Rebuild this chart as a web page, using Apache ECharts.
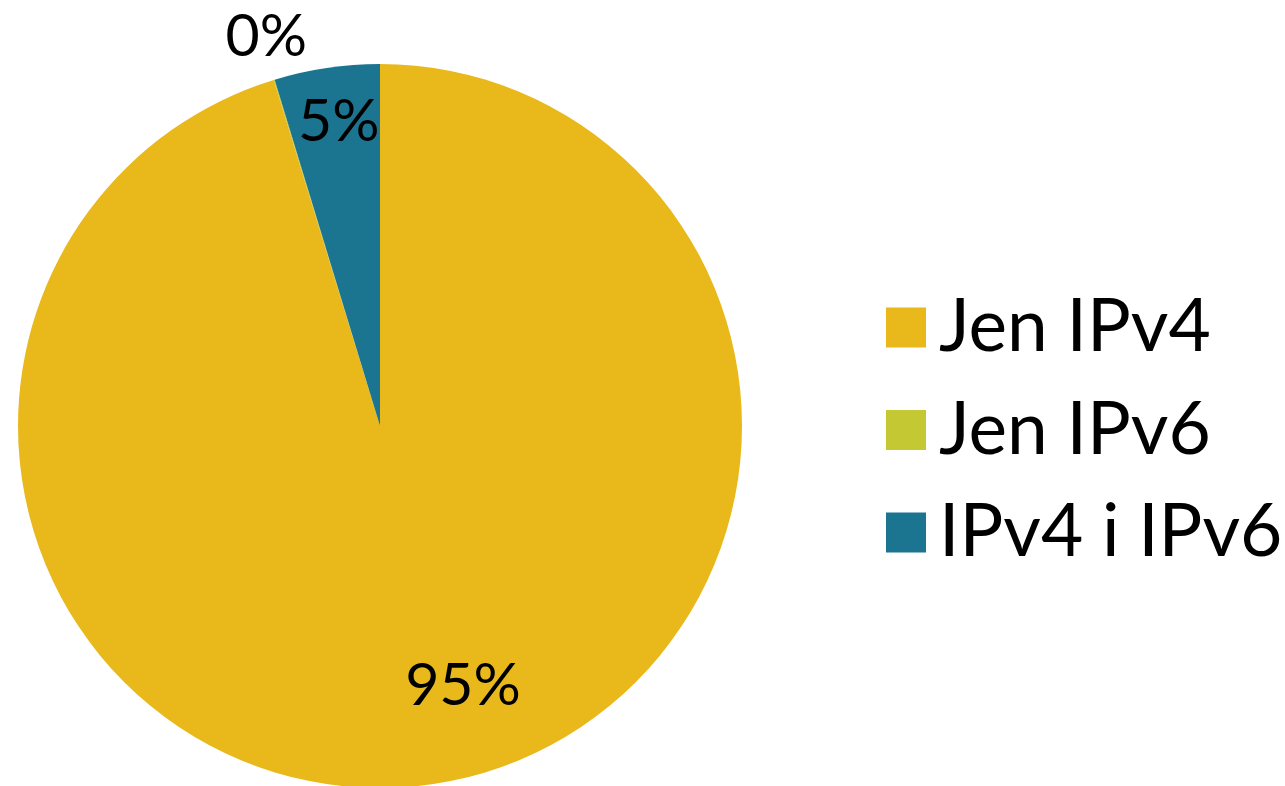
<!DOCTYPE html>
<html>
<head>
<meta charset="utf-8">
<script src="https://cdn.jsdelivr.net/npm/echarts@6/dist/echarts.min.js"></script>
<style>
  html, body { margin: 0; padding: 0; background: #fff; }
  #chart { width: 1285px; height: 786px; }
</style>
</head>
<body>
<div id="chart"></div>
<script>
var categories = ['Jen IPv4', 'Jen IPv6', 'IPv4 i IPv6'];
var shares = [95.26, 0.04, 4.7];
var colors = ['#E9B81B', '#C4C832', '#1B7591'];

// label placement, polar around the pie centre (degrees clockwise from top, px)
var labelAngle = [162.3, -16.3, -7.7];
var labelRadius = [273, 405, 307];

var cx = 380, cy = 426, R = 362;

var chart = echarts.init(document.getElementById('chart'));

var data = [];
for (var i = 0; i < categories.length; i++) {
    data.push({ name: categories[i], value: shares[i], itemStyle: { color: colors[i] } });
}

var option = {
    animation: false,
    legend: {
        orient: 'vertical',
        left: 881,
        top: 286,
        itemWidth: 40,
        itemHeight: 40,
        itemGap: 29.5,
        icon: 'rect',
        data: categories,
        textStyle: {
            fontFamily: 'Lato',
            fontSize: 73,
            color: '#000',
            padding: [0, 0, 0, 8]
        }
    },
    series: [{
        type: 'pie',
        center: [cx, cy],
        radius: [0, R],
        startAngle: 90,
        clockwise: true,
        avoidLabelOverlap: false,
        percentPrecision: 0,
        label: {
            show: true,
            position: 'inside',
            formatter: '{d}%',
            fontFamily: 'Lato',
            fontSize: 59,
            color: '#000'
        },
        labelLine: { show: false },
        labelLayout: function (p) {
            var a = labelAngle[p.dataIndex] * Math.PI / 180;
            var r = labelRadius[p.dataIndex];
            return {
                x: cx + r * Math.sin(a),
                y: cy - r * Math.cos(a),
                align: 'center',
                verticalAlign: 'middle'
            };
        },
        emphasis: { disabled: true },
        data: data
    }]
};

chart.setOption(option);
</script>
</body>
</html>
